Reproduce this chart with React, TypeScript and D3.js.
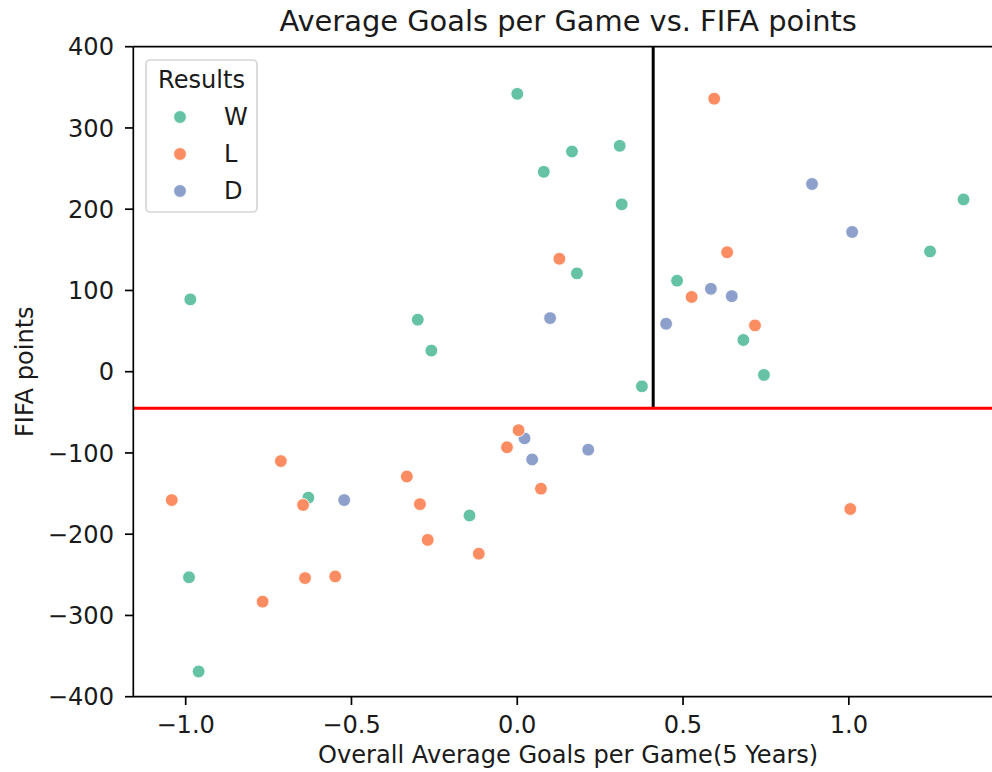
import React from "react";
import * as d3 from "d3";

const winX = [0.0, 0.165, 0.309, 0.08, 0.315, 1.346, 1.245, 0.18, 0.376, 0.482, 0.682, 0.744, -0.986, -0.3, -0.259, -0.63, -0.144, -0.99, -0.961];
const winY = [342, 271, 278, 246, 206, 212, 148, 121, -18, 112, 39, -4, 89, 64, 26, -155, -177, -253, -369];
const lossX = [0.127, 0.594, 0.633, 0.526, 0.717, 0.004, -0.031, 0.0715, 1.0045, -0.713, -0.333, -1.042, -0.646, -0.2935, -0.27, -0.116, -0.64, -0.549, -0.768];
const lossY = [139, 336, 147, 92, 57, -72, -93, -144, -169, -110, -129, -158, -164, -163, -207, -224, -254, -252, -283];
const drawX = [0.889, 1.01, 0.099, 0.584, 0.647, 0.449, 0.022, 0.045, 0.214, -0.522];
const drawY = [231, 172, 66, 102, 93, 59, -82, -108, -96, -158];

const results = ["W", "L", "D"];
const colors = ["#66c2a5", "#fc8d62", "#8da0cb"];
const xTicks = [-1.0, -0.5, 0.0, 0.5, 1.0];
const yTicks = [-400, -300, -200, -100, 0, 100, 200, 300, 400];
const hLineValue = -45;
const vLineValue = 0.41;

const W = 992;
const H = 772;
const left = 133.3;
const right = 1003;
const top = 46.7;
const bottom = 696.7;

export default function App() {
  const x = d3.scaleLinear().domain([-1.158, 1.465]).range([left, right]);
  const y = d3.scaleLinear().domain([-400, 400]).range([bottom, top]);
  const fmtX = (v: number) => (v < 0 ? "\u2212" : "") + Math.abs(v).toFixed(1);
  const fmtY = (v: number) => (v < 0 ? "\u2212" : "") + Math.abs(v).toString();
  const font = "DejaVu Sans";
  const fs = 24.1;
  const txt = "#1a1a1a";

  const series = [
    { name: "D", xs: drawX, ys: drawY, color: colors[2] },
    { name: "W", xs: winX, ys: winY, color: colors[0] },
    { name: "L", xs: lossX, ys: lossY, color: colors[1] },
  ];

  return (
    <svg
      width={W}
      height={H}
      style={{ position: "absolute", left: 0, top: 0, background: "#fff" }}
      fontFamily={font}
    >
      <rect x={0} y={0} width={W} height={H} fill="#fff" />
      <line x1={x(vLineValue)} x2={x(vLineValue)} y1={y(400)} y2={y(hLineValue)} stroke="#000" strokeWidth={3} />
      <line x1={left} x2={right} y1={y(hLineValue)} y2={y(hLineValue)} stroke="#ff0000" strokeWidth={3} />
      {series.map((s) =>
        s.xs.map((xv, i) => (
          <circle key={s.name + i} cx={x(xv)} cy={y(s.ys[i])} r={6.4} fill={s.color} stroke="#fff" strokeWidth={0.9} />
        ))
      )}
      <line x1={left} x2={left} y1={top} y2={bottom} stroke="#000" strokeWidth={1.7} />
      <line x1={left} x2={right} y1={bottom} y2={bottom} stroke="#000" strokeWidth={1.7} />
      <line x1={left} x2={right} y1={top} y2={top} stroke="#000" strokeWidth={1.7} />
      <line x1={right} x2={right} y1={top} y2={bottom} stroke="#000" strokeWidth={1.7} />
      {xTicks.map((t) => (
        <g key={"xt" + t}>
          <line x1={x(t)} x2={x(t)} y1={bottom} y2={bottom + 8.3} stroke="#000" strokeWidth={1.7} />
          <text x={x(t)} y={733} textAnchor="middle" fontSize={fs} fill={txt}>
            {fmtX(t)}
          </text>
        </g>
      ))}
      {yTicks.map((t) => (
        <g key={"yt" + t}>
          <line x1={left - 8.3} x2={left} y1={y(t)} y2={y(t)} stroke="#000" strokeWidth={1.7} />
          <text x={114} y={y(t)} dy="0.36em" textAnchor="end" fontSize={fs} fill={txt}>
            {fmtY(t)}
          </text>
        </g>
      ))}
      <text x={(left + right) / 2} y={763} textAnchor="middle" fontSize={fs} fill={txt}>
        Overall Average Goals per Game(5 Years)
      </text>
      <text
        transform={`translate(33, ${(top + bottom) / 2}) rotate(-90)`}
        textAnchor="middle"
        fontSize={fs}
        fill={txt}
      >
        FIFA points
      </text>
      <text x={(left + right) / 2} y={30.5} textAnchor="middle" fontSize={28.9} fill={txt}>
        Average Goals per Game vs. FIFA points
      </text>
      <rect x={146} y={60} width={111} height={152} rx={4} fill="#fff" fillOpacity={0.8} stroke="#d6d6d6" strokeWidth={1.7} />
      <text x={201.5} y={88} textAnchor="middle" fontSize={fs} fill={txt}>
        Results
      </text>
      {results.map((r, i) => (
        <g key={"lg" + r}>
          <circle cx={180} cy={117 + i * 37} r={6.4} fill={colors[i]} stroke="#fff" strokeWidth={0.9} />
          <text x={224} y={125 + i * 37} fontSize={fs} fill={txt}>
            {r}
          </text>
        </g>
      ))}
    </svg>
  );
}
